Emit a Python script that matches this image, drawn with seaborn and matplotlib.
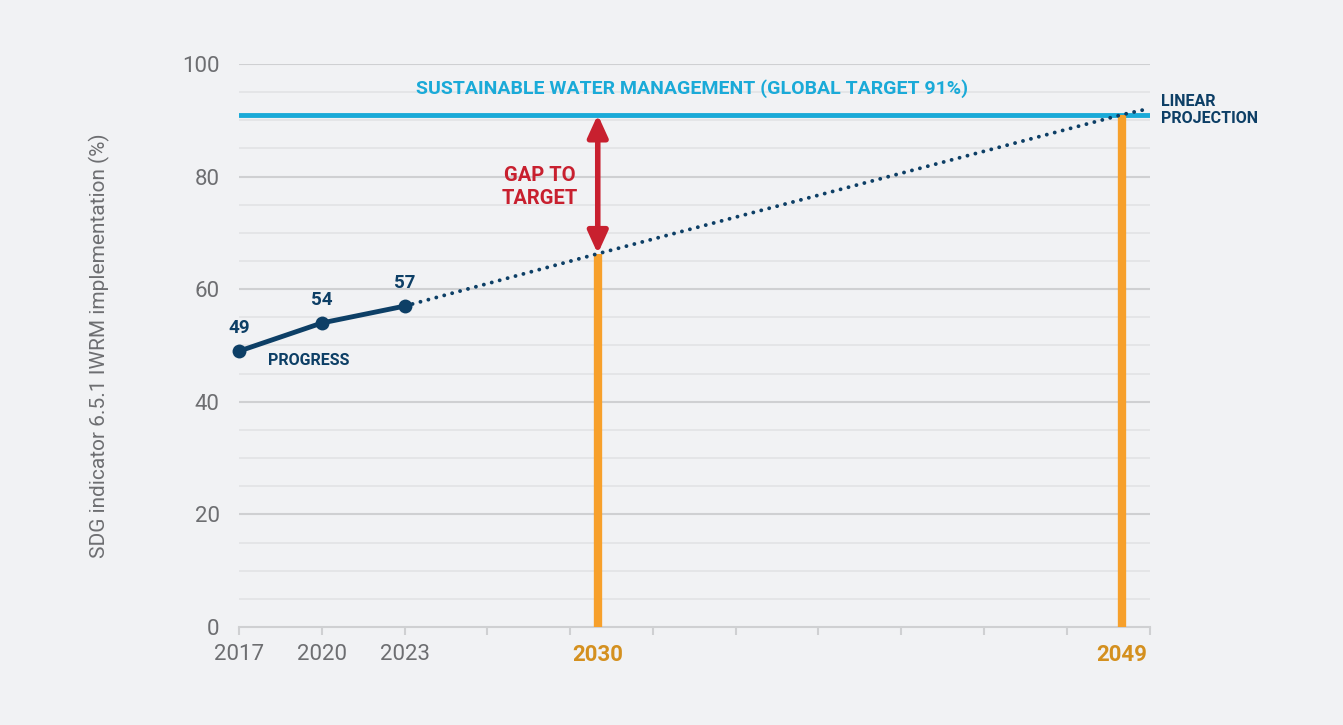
import numpy as np
import pandas as pd
import seaborn as sns
import matplotlib.pyplot as plt

# data
progress_years = [2017, 2020, 2023]
progress_values = [49, 54, 57]
projection_years = [2023, 2030, 2049, 2050]
projection_values = [57, 66.3, 91, 92.1]
target_value = 91
milestone_years = [2030, 2049]
milestone_values = [66.3, 91]
tick_years = list(range(2017, 2051, 3))
labelled_years = ['2017', '2020', '2023']

BG = '#f1f2f4'
NAVY = '#0d3f66'
CYAN = '#1aaad8'
ORANGE = '#f7a02b'
ORANGE_TXT = '#d4901f'
RED = '#c8202f'
GREY = '#6d6e71'

sns.set_theme(style='white')
plt.rcParams['font.family'] = ['Roboto', 'DejaVu Sans']

fig = plt.figure(figsize=(13.43, 7.25), dpi=100, facecolor=BG)
ax = fig.add_axes([0.178, 0.1352, 0.678, 0.7765], facecolor=BG)

# gridlines
for v in np.arange(5, 100, 5):
    ax.axhline(v, color='#e2e3e5', lw=1.2, zorder=0)
for v in range(20, 101, 20):
    ax.axhline(v, color='#cfd0d2', lw=1.5, zorder=0)

# target line
ax.axhline(target_value, color=CYAN, lw=3.5, zorder=2)

# milestone bars
for yr, val in zip(milestone_years, milestone_values):
    ax.plot([yr, yr], [0, val], color=ORANGE, lw=6, solid_capstyle='butt', zorder=3, clip_on=False)

# projection (dotted) + progress
proj = pd.DataFrame({'year': projection_years, 'value': projection_values})
sns.lineplot(data=proj, x='year', y='value', ax=ax, color=NAVY, lw=2.8,
             linestyle=(0, (0.01, 2.1)), zorder=4)
ax.lines[-1].set_dash_capstyle('round')

prog = pd.DataFrame({'year': progress_years, 'value': progress_values})
sns.lineplot(data=prog, x='year', y='value', ax=ax, color=NAVY, lw=3.5,
             marker='o', markersize=10, markeredgewidth=0, zorder=5, clip_on=False)

for yr, val in zip(progress_years, progress_values):
    ax.annotate(str(val), (yr, val), xytext=(0, 10), textcoords='offset points',
                ha='center', va='bottom', fontsize=13.5, fontweight='bold', color=NAVY)

ax.text(2018.05, 47.4, 'PROGRESS', ha='left', va='center', fontsize=11.5,
        fontweight='bold', color=NAVY)

# gap arrow
ax.annotate('', xy=(2030, 91), xytext=(2030, 66.3),
            arrowprops=dict(arrowstyle='<|-|>,head_width=0.5,head_length=1.1',
                            color=RED, lw=4, shrinkA=0, shrinkB=0), zorder=6)
ax.text(2027.9, 78.2, 'GAP TO\nTARGET', ha='center', va='center', fontsize=14.5,
        fontweight='bold', color=RED, linespacing=1.25)

ax.text(2033.4, 95.6, 'SUSTAINABLE WATER MANAGEMENT (GLOBAL TARGET 91%)',
        ha='center', va='center', fontsize=14, fontweight='bold', color=CYAN)
ax.text(2050.4, 91.8, 'LINEAR\nPROJECTION', ha='left', va='center', fontsize=11.5,
        fontweight='bold', color=NAVY, linespacing=1.2)

# axes
ax.set_xlim(2017, 2050)
ax.set_ylim(0, 100)
ax.set_xticks(tick_years)
ax.set_xticklabels(labelled_years + [''] * (len(tick_years) - 3))
ax.set_xticks(milestone_years, minor=True)
ax.set_xticklabels([str(y) for y in milestone_years], minor=True)
ax.tick_params(axis='x', which='major', length=6, width=1.5, color='#cfd0d2',
               labelsize=16, labelcolor=GREY, pad=6, direction='out', bottom=True)
ax.tick_params(axis='x', which='minor', length=0, labelsize=16, pad=12,
               labelcolor=ORANGE_TXT, bottom=True)
for lbl in ax.get_xticklabels(minor=True):
    lbl.set_fontweight('bold')
ax.set_yticks(range(0, 101, 20))
ax.tick_params(axis='y', length=0, labelsize=16, labelcolor=GREY, pad=14)
ax.set_xlabel('')
ax.set_ylabel('SDG indicator 6.5.1 IWRM implementation (%)', fontsize=15,
              color=GREY, labelpad=52)

for s in ['top', 'right', 'left']:
    ax.spines[s].set_visible(False)
ax.spines['bottom'].set_color('#cfd0d2')
ax.spines['bottom'].set_linewidth(1.5)

fig.savefig('out.png', dpi=100, facecolor=BG)
